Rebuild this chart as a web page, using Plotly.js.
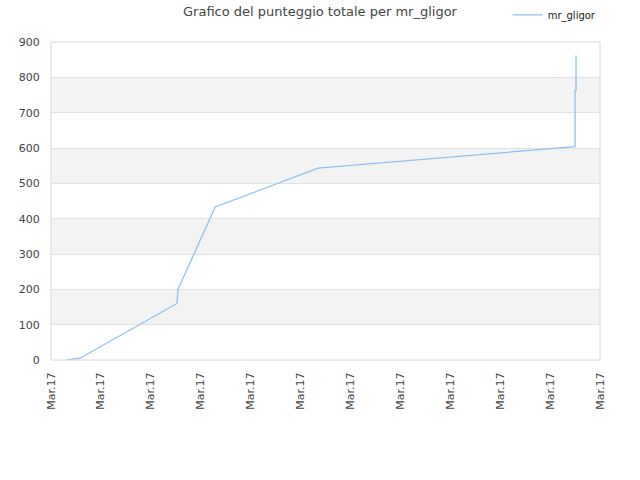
<!DOCTYPE html>
<html>
<head>
<meta charset="utf-8">
<script src="https://cdn.plot.ly/plotly-3.0.1.min.js"></script>
<style>html,body{margin:0;padding:0;background:#fff;}#chart{width:640px;height:480px;}</style>
</head>
<body>
<div id="chart"></div>
<script>
// Data (x in tick-interval units; every tick is labelled "Mar.17")
const seriesName = "mr_gligor";
const xValues = [0.30, 0.45, 0.58, 2.525, 2.545, 3.29, 5.35, 10.50, 10.50, 10.52, 10.52];
const yValues = [0, 2, 5, 160, 200, 433, 543, 604, 763, 763, 862];
const tickPositions = [0,1,2,3,4,5,6,7,8,9,10,11];
const tickLabels = ["Mar.17","Mar.17","Mar.17","Mar.17","Mar.17","Mar.17","Mar.17","Mar.17","Mar.17","Mar.17","Mar.17","Mar.17"];
const yTicks = [0,100,200,300,400,500,600,700,800,900];
const bandStarts = [100,300,500,700];

const shapes = bandStarts.map(b => ({
  type:'rect', xref:'paper', yref:'y', x0:0, x1:1, y0:b, y1:b+100,
  fillcolor:'#f3f3f3', line:{width:0}, layer:'below'
}));
shapes.push({type:'rect', xref:'paper', yref:'paper', x0:0, x1:1, y0:0, y1:1,
  line:{color:'#d8d8d8', width:1}, fillcolor:'rgba(0,0,0,0)', layer:'above'});

const trace = {
  x: xValues, y: yValues, type:'scatter', mode:'lines', name: seriesName,
  line:{color:'#8cc2f2', width:1.3}
};

const layout = {
  width:640, height:480,
  margin:{l:51, r:40, t:42, b:120, autoexpand:false},
  paper_bgcolor:'#fff', plot_bgcolor:'#fff',
  font:{family:'DejaVu Sans, sans-serif', size:11, color:'#444'},
  title:{text:'Grafico del punteggio totale per mr_gligor', x:0.5, xanchor:'center', y:0.985, yanchor:'top',
    font:{family:'DejaVu Sans, sans-serif', size:13, color:'#444'}},
  showlegend:true,
  legend:{x:1.003, xanchor:'right', y:1.085, yanchor:'middle', bgcolor:'rgba(0,0,0,0)',
    itemwidth:30, font:{family:'DejaVu Sans, sans-serif', size:10, color:'#222'}},
  xaxis:{range:[0,11], tickvals:tickPositions, ticktext:tickLabels, tickangle:-90,
    showgrid:false, zeroline:false, showline:false, ticks:'outside', ticklen:7, tickcolor:'rgba(0,0,0,0)',
    tickfont:{size:11, color:'#444'}},
  yaxis:{range:[0,900], tickvals:yTicks, showgrid:true, gridcolor:'#e2e2e2', zeroline:false,
    showline:false, ticks:'outside', ticklen:8, tickcolor:'rgba(0,0,0,0)', tickfont:{size:11, color:'#444'}},
  shapes: shapes
};
Plotly.newPlot('chart', [trace], layout, {displayModeBar:false, staticPlot:true});
</script>
</body>
</html>
